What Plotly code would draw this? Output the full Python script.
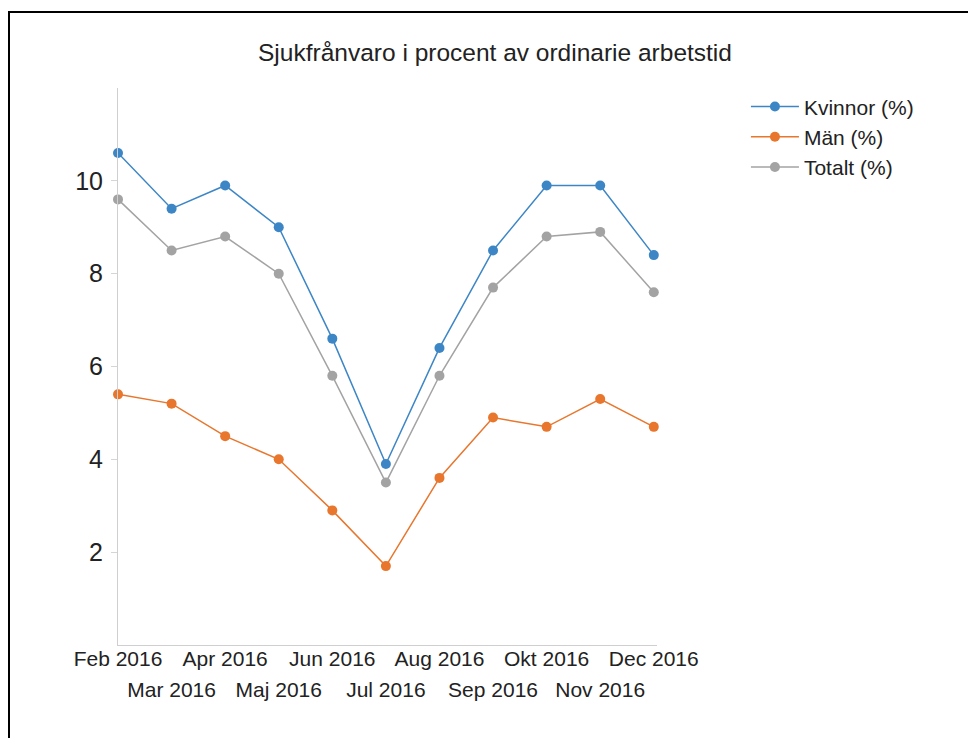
import plotly.graph_objects as go

months = ["Feb 2016", "Mar 2016", "Apr 2016", "Maj 2016", "Jun 2016", "Jul 2016",
          "Aug 2016", "Sep 2016", "Okt 2016", "Nov 2016", "Dec 2016"]
kvinnor = [10.6, 9.4, 9.9, 9.0, 6.6, 3.9, 6.4, 8.5, 9.9, 9.9, 8.4]
man = [5.4, 5.2, 4.5, 4.0, 2.9, 1.7, 3.6, 4.9, 4.7, 5.3, 4.7]
totalt = [9.6, 8.5, 8.8, 8.0, 5.8, 3.5, 5.8, 7.7, 8.8, 8.9, 7.6]
y_ticks = [2, 4, 6, 8, 10]

title = "Sjukfrånvaro i procent av ordinarie arbetstid"
names = ["Kvinnor (%)", "Män (%)", "Totalt (%)"]
colors = ["#3d86c6", "#e8762d", "#a3a3a3"]

xs = list(range(len(months)))
FONT = "Liberation Sans, Arial, sans-serif"

fig = go.Figure()
for name, vals, col in zip(names, [kvinnor, man, totalt], colors):
    fig.add_trace(go.Scatter(
        x=xs, y=vals, name=name, mode="lines+markers",
        line=dict(color=col, width=1.5),
        marker=dict(color=col, size=10),
        cliponaxis=False,
    ))

even = xs[0::2]
odd = xs[1::2]

W, H = 968, 730

fig.update_layout(
    width=W, height=H,
    paper_bgcolor="white", plot_bgcolor="white",
    font=dict(family=FONT, color="#222222"),
    margin=dict(l=110, r=319, t=80, b=93, autoexpand=False),
    title=dict(text=title, x=487 / W, xref="container", xanchor="center",
               y=1 - 44 / H, yref="container", yanchor="middle",
               font=dict(size=24.5, color="#222222", family=FONT)),
    legend=dict(x=1.165, y=1.003, xanchor="left", yanchor="top",
                font=dict(size=21, color="#222222"), itemwidth=48,
                bgcolor="rgba(0,0,0,0)", tracegroupgap=0),
    xaxis=dict(range=[0, 10.06], tickmode="array", tickvals=even,
               ticktext=[months[i] for i in even],
               showgrid=False, zeroline=False, showline=True,
               linecolor="#cfcfcf", linewidth=1, ticks="",
               ticklabelstandoff=-5,
               tickfont=dict(size=21, color="#222222")),
    xaxis2=dict(range=[0, 10.06], overlaying="x", anchor="y", side="bottom",
                tickmode="array", tickvals=odd,
                ticktext=[months[i] for i in odd],
                showgrid=False, zeroline=False, showline=False, ticks="",
                ticklabelstandoff=30,
                tickfont=dict(size=21, color="#222222")),
    yaxis=dict(range=[0, 12], tickmode="array", tickvals=y_ticks,
               ticktext=[str(v) for v in y_ticks],
               showgrid=False, zeroline=False, showline=True,
               linecolor="#cfcfcf", linewidth=1,
               ticks="outside", ticklen=6, tickcolor="#d5d5d5",
               ticklabelstandoff=3,
               tickfont=dict(size=25, color="#222222")),
    shapes=[dict(type="rect", xref="paper", yref="paper",
                 x0=(1 - 110) / 539, x1=1.8, y0=-0.4, y1=(637 - 4) / 557,
                 line=dict(color="black", width=2), layer="above")],
    showlegend=True,
)

# invisible trace to activate xaxis2
fig.add_trace(go.Scatter(x=[xs[0]], y=[None], xaxis="x2", showlegend=False,
                         hoverinfo="skip", mode="markers"))

fig.write_html("out.html")
